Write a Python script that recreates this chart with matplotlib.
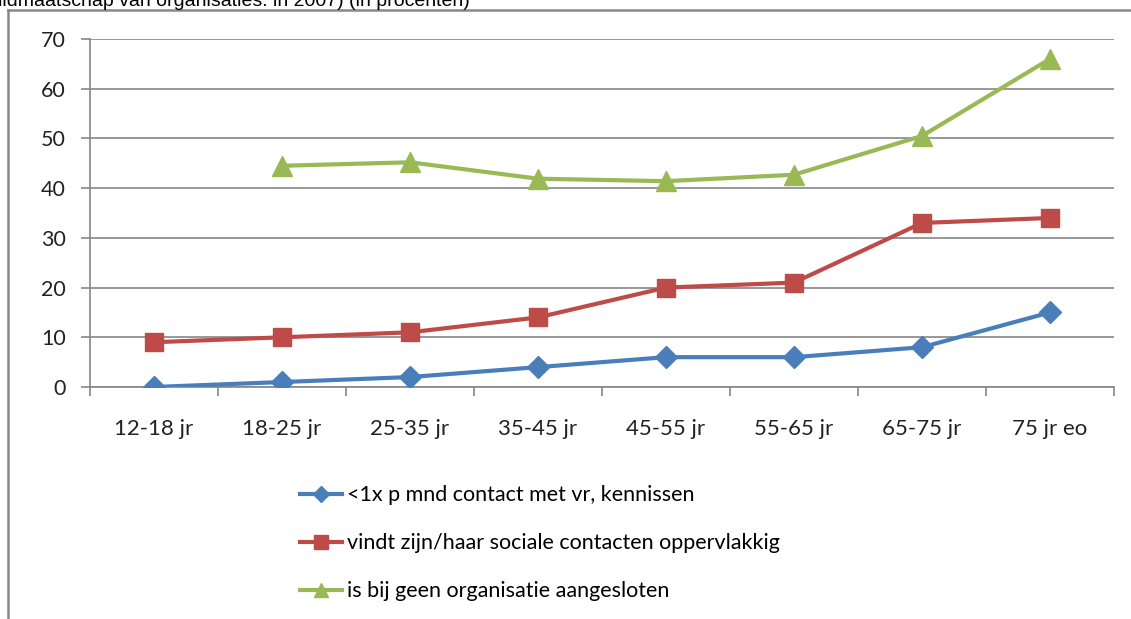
import matplotlib
matplotlib.use("Agg")
import matplotlib.pyplot as plt
from matplotlib.lines import Line2D
import numpy as np

categories = ["12-18 jr", "18-25 jr", "25-35 jr", "35-45 jr", "45-55 jr", "55-65 jr", "65-75 jr", "75 jr eo"]
contact = [0, 1, 2, 4, 6, 6, 8, 15]
oppervlakkig = [9, 10, 11, 14, 20, 21, 33, 34]
geen_organisatie = [np.nan, 44.5, 45.2, 41.9, 41.4, 42.7, 50.5, 66]
labels = ["<1x p mnd contact met vr, kennissen",
          "vindt zijn/haar sociale contacten oppervlakkig",
          "is bij geen organisatie aangesloten"]
yticks = [0, 10, 20, 30, 40, 50, 60, 70]
title_text = "lidmaatschap van organisaties. in 2007) (in procenten)"

W, H = 1131, 619
fig = plt.figure(figsize=(W / 100, H / 100), dpi=100)
font = "Lato"

ax = fig.add_axes([90 / W, 1 - 387 / H, (1114 - 90) / W, (387 - 39) / H])
x = np.arange(len(categories))
colors = ["#4A7EBB", "#BE4B48", "#98B954"]
markers = ["D", "s", "^"]
msizes = [11, 13, 14]
handles = []
for vals, c, m, ms, lab in zip([contact, oppervlakkig, geen_organisatie], colors, markers, msizes, labels):
    h, = ax.plot(x, vals, color=c, lw=3, marker=m, markersize=ms, label=lab, zorder=3)
    handles.append(h)

ax.set_xlim(-0.5, len(categories) - 0.5)
ax.set_ylim(0, 70)
ax.set_yticks(yticks)
ax.set_yticklabels([str(v) for v in yticks], fontfamily=font, fontsize=15.5, color="#222222")
ax.set_xticks(x)
ax.set_xticklabels(categories, fontfamily=font, fontsize=16, color="#222222")
ax.set_xticks(np.arange(-0.5, len(categories)), minor=True)
ax.tick_params(axis="x", which="major", length=0, pad=23)
ax.tick_params(axis="x", which="minor", length=6.5, color="#868686", width=1.2)
ax.tick_params(axis="y", length=6.5, color="#868686", width=1.2, pad=11)
ax.grid(axis="y", color="#868686", lw=1.2, zorder=0)
for s in ["top", "right"]:
    ax.spines[s].set_visible(False)
ax.spines["left"].set_color("#868686")
ax.spines["bottom"].set_color("#868686")
ax.spines["left"].set_linewidth(1.2)
ax.spines["bottom"].set_linewidth(1.2)

leg = fig.legend(handles=handles, loc="upper left", bbox_to_anchor=(281 / W, 1 - 466 / H),
                 frameon=False, prop={"family": font, "size": 15.5}, handlelength=1.95,
                 handletextpad=0.23, labelspacing=1.3, markerscale=0.75)

# outer chart frame
fig.add_artist(Line2D([8 / W, 8 / W], [0, 1 - 10 / H], transform=fig.transFigure, color="#888888", lw=1.8))
fig.add_artist(Line2D([8 / W, 1], [1 - 10 / H, 1 - 10 / H], transform=fig.transFigure, color="#888888", lw=1.8))

fig.text(-2 / W, 1 - 6 / H, title_text, fontfamily="Liberation Sans", fontsize=14, va="baseline", ha="left")

fig.savefig("out.png", dpi=100)
